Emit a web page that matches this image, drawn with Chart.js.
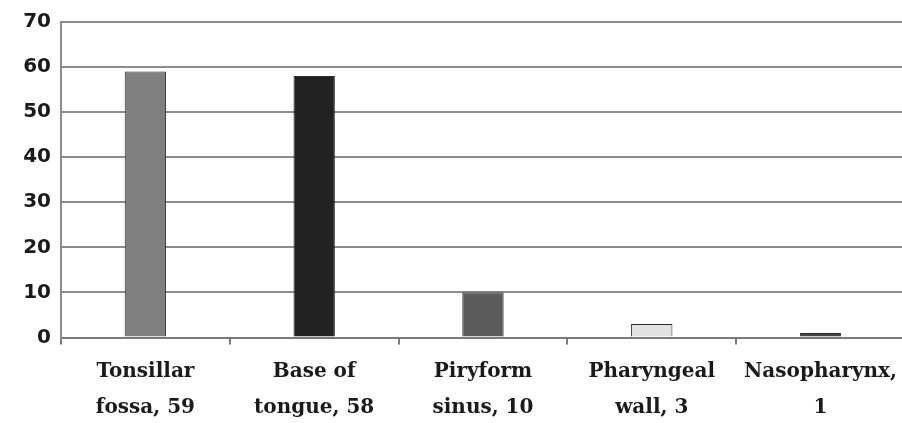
<!DOCTYPE html>
<html>
<head>
<meta charset="utf-8">
<script src="https://cdn.jsdelivr.net/npm/chart.js@4"></script>
<style>
  html, body { margin: 0; padding: 0; background: #ffffff; overflow: hidden; }
  #frame { width: 902px; height: 423px; overflow: hidden; }
  #wrap { width: 906px; height: 423px; position: relative; }
</style>
</head>
<body>
<div id="frame"><div id="wrap"><canvas id="chart"></canvas></div></div>
<script>
// Tumour sites (two-line labels) and case counts
const sites = [
  ['Tonsillar', 'fossa, 59'],
  ['Base of', 'tongue, 58'],
  ['Piryform', 'sinus, 10'],
  ['Pharyngeal', 'wall, 3'],
  ['Nasopharynx,', '1']
];
const cases = [59, 58, 10, 3, 1];
const barFills = ['#808080', '#222222', '#5c5c5c', '#e2e2e2', '#454545'];
const yTicks = [0, 10, 20, 30, 40, 50, 60, 70];

new Chart(document.getElementById('chart'), {
  type: 'bar',
  data: {
    labels: sites,
    datasets: [{
      data: cases,
      backgroundColor: barFills,
      borderColor: '#2a2a2a',
      borderWidth: 1,
      categoryPercentage: 1,
      barPercentage: 0.245
    }]
  },
  options: {
    responsive: true,
    maintainAspectRatio: false,
    animation: false,
    layout: { padding: { top: 11, right: 0, bottom: 0, left: 0 } },
    plugins: { legend: { display: false }, tooltip: { enabled: false } },
    scales: {
      x: {
        grid: {
          offset: true,
          drawOnChartArea: false,
          drawTicks: true,
          tickLength: 7,
          color: '#7a7a7a',
          lineWidth: 2
        },
        border: { color: '#7a7a7a', width: 2 },
        ticks: {
          color: '#1a1a1a',
          padding: 9,
          font: { family: 'DejaVu Serif', weight: 'bold', size: 20, lineHeight: 1.8 }
        },
        afterFit(scale) { scale.height = 85.5; }
      },
      y: {
        min: 0,
        max: 70,
        afterBuildTicks(scale) { scale.ticks = yTicks.map(v => ({ value: v })); },
        grid: {
          color: '#8c8c8c',
          lineWidth: 2,
          drawTicks: false
        },
        border: { color: '#8c8c8c', width: 2 },
        ticks: {
          color: '#1a1a1a',
          padding: 10,
          font: { family: 'DejaVu Sans', weight: 'bold', size: 20 }
        },
        afterFit(scale) { scale.width = 61; }
      }
    }
  }
});
</script>
</body>
</html>
